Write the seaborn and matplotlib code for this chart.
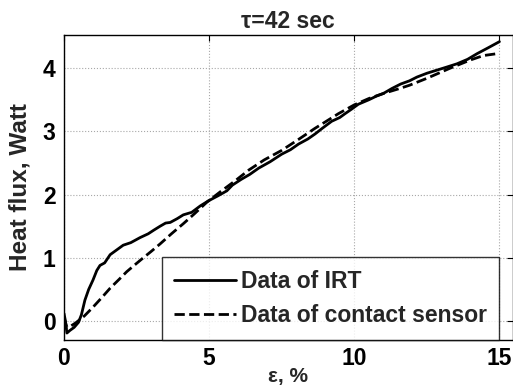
import matplotlib
matplotlib.use("Agg")
import matplotlib.pyplot as plt
from matplotlib.font_manager import FontProperties
import seaborn as sns
import pandas as pd

# ---- data ----
irt_x = [0, 0.05, 0.1, 0.2, 0.35, 0.5, 0.6, 0.72, 0.85, 1.0, 1.13, 1.24, 1.4, 1.59, 1.8,
         2.04, 2.3, 2.62, 2.9, 3.1, 3.31, 3.5, 3.66, 3.9, 4.11, 4.4, 4.69, 4.97, 5.3, 5.61,
         5.8, 6.1, 6.4, 6.71, 7.1, 7.5, 7.8, 8.08, 8.4, 8.65, 8.9, 9.22, 9.5, 9.68, 9.9,
         10.14, 10.5, 10.77, 11.0, 11.3, 11.6, 11.9, 12.16, 12.5, 12.85, 13.2, 13.54, 13.9,
         14.23, 14.6, 15.0]
irt_y = [0.12, 0.0, -0.19, -0.15, -0.1, -0.02, 0.1, 0.33, 0.5, 0.65, 0.8, 0.88, 0.92, 1.05,
         1.12, 1.2, 1.24, 1.32, 1.38, 1.44, 1.5, 1.55, 1.56, 1.62, 1.68, 1.72, 1.82, 1.9,
         1.98, 2.06, 2.15, 2.24, 2.32, 2.42, 2.52, 2.64, 2.71, 2.8, 2.88, 2.96, 3.05, 3.16,
         3.22, 3.28, 3.35, 3.43, 3.5, 3.56, 3.6, 3.68, 3.75, 3.8, 3.86, 3.92, 3.97, 4.02,
         4.07, 4.14, 4.23, 4.32, 4.42]

sensor_x = [0, 0.1, 0.2, 0.4, 0.7, 1.0, 1.3, 1.59, 1.9, 2.16, 2.39, 2.73, 3.0, 3.31, 3.7,
            4.11, 4.5, 4.92, 5.4, 5.9, 6.37, 6.9, 7.5, 8.1, 8.65, 9.0, 9.45, 10.0, 10.5,
            11.0, 11.5, 11.9, 12.5, 13.3, 14.0, 14.45, 14.92]
sensor_y = [0.05, -0.1, -0.09, -0.03, 0.08, 0.22, 0.37, 0.52, 0.66, 0.78, 0.87, 1.0, 1.1,
            1.22, 1.38, 1.54, 1.7, 1.88, 2.05, 2.22, 2.39, 2.55, 2.7, 2.88, 3.05, 3.15,
            3.28, 3.42, 3.52, 3.6, 3.67, 3.73, 3.84, 4.0, 4.13, 4.2, 4.23]

series_names = ["Data of IRT", "Data of contact sensor"]
x_ticks = [0, 5, 10, 15]
y_ticks = [0, 1, 2, 3, 4]
title = "τ=42 sec"
x_label = "ε, %"
y_label = "Heat flux, Watt"

sns.set_theme(style="white")
plt.rcParams['font.family'] = ['Liberation Sans', 'DejaVu Sans']
plt.rcParams['font.weight'] = 'bold'

df = pd.concat([
    pd.DataFrame({"x": irt_x, "y": irt_y, "series": series_names[0]}),
    pd.DataFrame({"x": sensor_x, "y": sensor_y, "series": series_names[1]}),
], ignore_index=True)

fig = plt.figure(figsize=(5.13, 3.92), dpi=100)
ax = fig.add_axes([64 / 513, 1 - 340 / 392, (512.5 - 64) / 513, (340 - 34.7) / 392])

sns.lineplot(data=df, x="x", y="y", hue="series", style="series",
             palette=["black", "black"], dashes={series_names[0]: "", series_names[1]: (3.7, 1.6)},
             linewidth=2, ax=ax, sort=False, estimator=None, legend=True)

ax.set_xlim(0, 15.45)
ax.set_ylim(-0.3, 4.53)
ax.set_xticks(x_ticks)
ax.set_yticks(y_ticks)
ax.grid(True, color="#a8a8a8", linestyle=":", linewidth=0.8)
ax.tick_params(direction="in", length=4, width=0.8, top=True, right=True,
               labelsize=16.5, pad=6, colors="black")
ax.tick_params(axis="x", pad=5)
for lbl in ax.get_xticklabels() + ax.get_yticklabels():
    lbl.set_fontweight("bold")
for s in ax.spines.values():
    s.set_color("black")
    s.set_linewidth(1.0)

ax.set_title(title, fontsize=16.5, fontweight="bold", pad=5)
ax.set_xlabel(x_label, fontsize=15, fontweight="bold", labelpad=-2)
ax.set_ylabel(y_label, fontsize=17.5, fontweight="bold", labelpad=8)

leg_font = FontProperties(family=["Liberation Sans", "DejaVu Sans"], weight="bold", size=16.5)
handles, labels = ax.get_legend_handles_labels()
old = ax.get_legend()
if old is not None:
    old.remove()
leg = ax.legend(handles, labels, loc="lower right", bbox_to_anchor=(0.971, 0.0), borderaxespad=0,
                prop=leg_font, frameon=True, fancybox=False, handlelength=2.7,
                handletextpad=0.2, borderpad=0.55, labelspacing=0.5)
leg.get_frame().set_edgecolor("black")
leg.get_frame().set_linewidth(1.0)
for h in leg.get_lines():
    h.set_linewidth(2)

fig.savefig("out.png", dpi=100)
